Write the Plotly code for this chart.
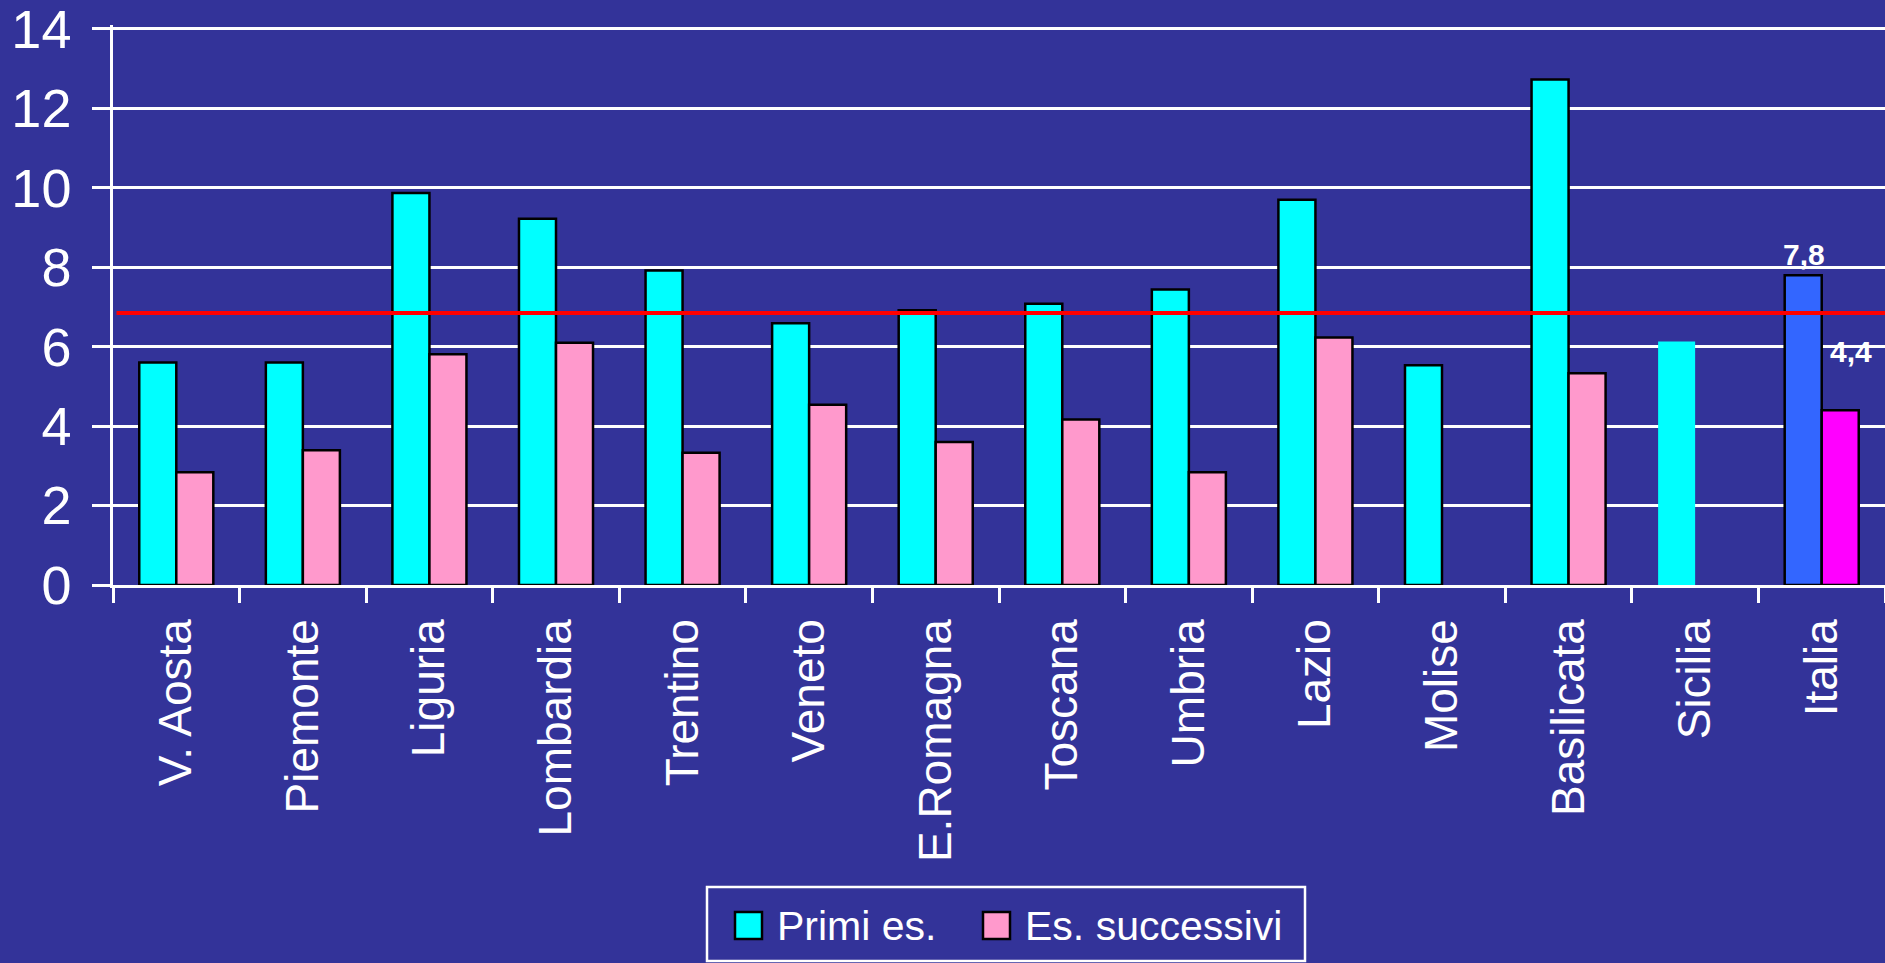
import plotly.graph_objects as go

regions = ["V. Aosta", "Piemonte", "Liguria", "Lombardia", "Trentino", "Veneto",
           "E.Romagna", "Toscana", "Umbria", "Lazio", "Molise", "Basilicata",
           "Sicilia", "Italia"]
primi_es = [5.6, 5.6, 9.87, 9.22, 7.92, 6.59, 6.92, 7.08, 7.44, 9.7, 5.53, 12.73, 6.13, 7.8]
es_successivi = [2.84, 3.39, 5.81, 6.1, 3.33, 4.54, 3.6, 4.17, 2.84, 6.23, None, 5.33, None, 4.4]
reference_value = 6.85
y_ticks = [0, 2, 4, 6, 8, 10, 12, 14]
legend_labels = ["Primi es.", "Es. successivi"]

BG = "#333399"
FONT = "Liberation Sans, Arial, sans-serif"

primi_colors = ["#00FFFF"] * 12 + ["#00FFFF", "#3366FF"]
primi_lw = [2.5] * 12 + [0, 2.5]
succ_colors = ["#FF99CC"] * 13 + ["#FF00FF"]

W, H = 1885, 963
ML, MR, MT, MB = 113, 0, 25, 378
PW, PH = W - ML - MR, H - MT - MB


def px(xp):
    return (xp - ML) / PW


def py(yp):
    return (H - MB - yp) / PH


fig = go.Figure()
fig.add_trace(go.Bar(
    x=regions, y=primi_es, name=legend_labels[0],
    marker=dict(color=primi_colors, line=dict(color="black", width=primi_lw)),
    showlegend=False,
))
fig.add_trace(go.Bar(
    x=regions, y=es_successivi, name=legend_labels[1],
    marker=dict(color=succ_colors, line=dict(color="black", width=2.5)),
    showlegend=False,
))

# average reference line
fig.add_shape(type="line", xref="paper", yref="y", x0=0.002, x1=1, y0=reference_value,
              y1=reference_value, line=dict(color="#FF0000", width=4), layer="above")

# value labels for Italia
fig.add_annotation(x="Italia", y=primi_es[-1], text="<b>7,8</b>", showarrow=False,
                   xshift=-18, yanchor="bottom", yshift=2,
                   font=dict(family=FONT, size=30, color="white"))
fig.add_annotation(x="Italia", y=es_successivi[-1], text="<b>4,4</b>", showarrow=False,
                   xshift=29, yanchor="bottom", yshift=40,
                   font=dict(family=FONT, size=30, color="white"))

# custom legend (box, swatches, labels)
fig.add_shape(type="rect", xref="paper", yref="paper",
              x0=px(707), x1=px(1305), y0=py(961), y1=py(887),
              line=dict(color="white", width=2.5), fillcolor=BG)
legend_colors = ["#00FFFF", "#FF99CC"]
swatch_x = [735, 983]
for label, col, lx in zip(legend_labels, legend_colors, swatch_x):
    fig.add_shape(type="rect", xref="paper", yref="paper",
                  x0=px(lx), x1=px(lx + 27), y0=py(939), y1=py(912),
                  line=dict(color="black", width=2.5), fillcolor=col)
    fig.add_annotation(xref="paper", yref="paper", x=px(lx + 40),
                       y=py(926), text=label, showarrow=False,
                       xanchor="left", yanchor="middle",
                       font=dict(family=FONT, size=41, color="white"))

fig.update_layout(
    width=W, height=H,
    paper_bgcolor=BG, plot_bgcolor=BG,
    margin=dict(l=ML, r=MR, t=MT, b=MB),
    barmode="group", bargap=0.415, bargroupgap=0,
    font=dict(family=FONT, color="white"),
    xaxis=dict(
        showline=True, linecolor="white", linewidth=2.5,
        ticks="outside", tickson="boundaries", ticklen=15, tickcolor="white", tickwidth=2.5,
        tickangle=-90, tickfont=dict(family=FONT, size=46, color="white"),
        showgrid=False, ticklabelstandoff=13,
    ),
    yaxis=dict(
        range=[0, 14.1], tickvals=y_ticks, ticktext=[str(v) for v in y_ticks],
        showline=True, linecolor="white", linewidth=2.5,
        showgrid=True, gridcolor="white", gridwidth=2.5,
        ticks="outside", ticklen=18, tickcolor="white", tickwidth=2.5,
        tickfont=dict(family=FONT, size=54, color="white"),
        zeroline=False, ticklabelstandoff=10, ticklabeloverflow="allow",
    ),
)

fig.write_html("out.html", config={"displayModeBar": False},
               post_script="document.body.style.margin='0px';document.body.style.overflow='hidden';")
